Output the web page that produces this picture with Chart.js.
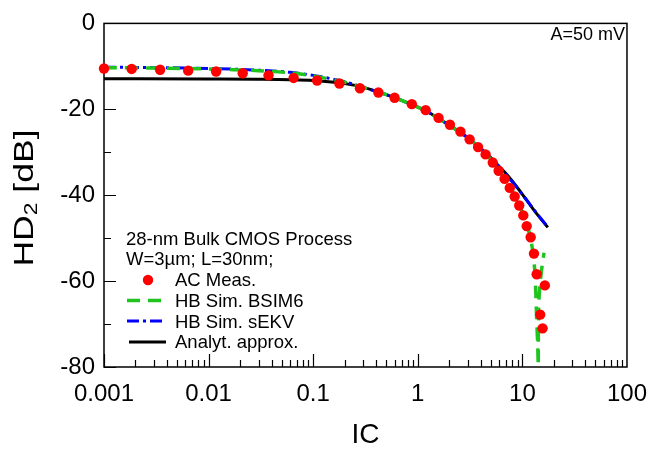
<!DOCTYPE html>
<html>
<head>
<meta charset="utf-8">
<script src="https://cdn.jsdelivr.net/npm/chart.js@4.4.1/dist/chart.umd.min.js"></script>
<style>
  html, body { margin: 0; padding: 0; background: #fff; }
  #wrap { width: 660px; height: 452px; }
</style>
</head>
<body>
<div id="wrap"><canvas id="hdChart" width="660" height="452"></canvas></div>
<script>
// measured points (IC, HD2 in dB)
const acIC = [0.001, 0.00184, 0.00344, 0.00638, 0.0118, 0.0212, 0.0374, 0.065, 0.109, 0.178, 0.28, 0.42, 0.60,
  0.877, 1.19, 1.58, 2.03, 2.56, 3.13, 3.77, 4.45, 5.21, 5.93, 6.76, 7.57, 8.44, 9.33, 10.2, 11.0, 12.0,
  12.9, 13.7, 14.8, 15.6, 16.4];
const acHD2 = [-10.5, -10.6, -10.8, -11.0, -11.2, -11.6, -12.1, -12.7, -13.3, -14.0, -15.1, -16.1, -17.3,
  -18.8, -20.2, -22.0, -23.6, -25.2, -27.0, -28.8, -30.5, -32.4, -34.3, -36.2, -38.3, -40.3, -42.4, -44.7, -47.2, -49.8,
  -53.6, -58.4, -67.8, -71.0, -61.0];

// HB sim with BSIM6 (goes through the notch near IC=14)
const bsimIC = [0.001, 0.003, 0.01, 0.03, 0.06, 0.1, 0.2, 0.3, 0.5, 0.8, 1.2, 2, 3, 4, 5, 6, 7, 8, 9, 10, 11, 12,
  12.96, 13.47, 13.67, 13.97, 14.17, 14.25, 14.2, 14.3, 14.7, 15.24, 16.1];
const bsimHD2 = [-10.3, -10.4, -10.6, -11.0, -11.5, -12.2, -13.7, -14.9, -16.6, -18.5, -20.4, -23.7, -26.6, -29.3, -31.7, -34.2, -36.5, -39.0, -41.4, -44.0, -46.8, -50.0,
  -55.7, -63.3, -68.6, -74.0, -80.0, -92.0, -76.0, -66.0, -61.0, -57.5, -53.4];

// HB sim with sEKV
const ekvIC = [0.001, 0.003, 0.01, 0.03, 0.06, 0.1, 0.2, 0.3, 0.5, 0.8, 1.2, 2, 3, 4, 5, 6, 7, 8, 10, 13, 17.5];
const ekvHD2 = [-10.2, -10.3, -10.5, -10.9, -11.4, -12.1, -13.6, -14.9, -16.6, -18.5, -20.4, -23.7, -26.6, -29.2, -31.4, -33.4, -35.2, -36.9, -39.8, -43.5, -47.4];

// analytical approximation
const analytIC = [0.001, 0.01, 0.03, 0.06, 0.1, 0.2, 0.3, 0.5, 0.8, 1.2, 2, 3, 4, 5, 6, 7, 8, 10, 13, 17.5];
const analytHD2 = [-12.9, -12.95, -13.0, -13.1, -13.3, -14.0, -14.9, -16.6, -18.5, -20.4, -23.7, -26.6, -29.1, -31.3, -33.3, -35.0, -36.7, -39.8, -43.6, -47.5];

const xTickLabels = ["0.001", "0.01", "0.1", "1", "10", "100"];
const seriesNames = ["AC Meas.", "HB Sim. BSIM6", "HB Sim. sEKV", "Analyt. approx."];
const legendTitle = ["28-nm Bulk CMOS Process", "W=3µm; L=30nm;"];
const ampNote = "A=50 mV";

const FONT = "'Liberation Sans', Arial, sans-serif";
const RED = "#ff0000";
const GREEN = "#1fc41f";
const BLUE = "#0000ff";
const BSIM_DASH = [13, 8];
const EKV_DASH = [12, 4, 3, 4];

function toPoints(xs, ys) {
  return xs.map((x, i) => ({ x: x, y: ys[i] }));
}

const decorPlugin = {
  id: "decor",
  beforeDatasetsDraw(chart) {
    const ctx = chart.ctx;
    const a = chart.chartArea;
    const xs = chart.scales.x;
    const ys = chart.scales.y;
    ctx.save();
    ctx.strokeStyle = "#000";
    ctx.lineWidth = 1.5;
    ctx.strokeRect(a.left, a.top, a.right - a.left, a.bottom - a.top);

    ctx.lineWidth = 1.2;
    ctx.beginPath();
    // x ticks, inward
    for (let d = -3; d <= 1; d++) {
      for (let m = 1; m <= 9; m++) {
        const v = m * Math.pow(10, d);
        const px = Math.round(xs.getPixelForValue(v)) + 0.5;
        const len = m === 1 ? 13 : 7;
        ctx.moveTo(px, a.bottom);
        ctx.lineTo(px, a.bottom - len);
      }
    }
    // y ticks, inward
    for (let v = -80; v <= 0; v += 10) {
      const py = Math.round(ys.getPixelForValue(v)) + 0.5;
      const len = v % 20 === 0 ? 12 : 7;
      ctx.moveTo(a.left, py);
      ctx.lineTo(a.left + len, py);
    }
    ctx.stroke();
    ctx.restore();
  },
  afterDraw(chart) {
    const ctx = chart.ctx;
    const a = chart.chartArea;
    ctx.save();
    ctx.fillStyle = "#000";
    ctx.textBaseline = "alphabetic";

    // amplitude note
    ctx.font = "18px " + FONT;
    ctx.textAlign = "right";
    ctx.fillText(ampNote, 625, 40);

    // legend block
    ctx.textAlign = "left";
    ctx.font = "18.5px " + FONT;
    ctx.fillText(legendTitle[0], 126, 245);
    ctx.fillText(legendTitle[1], 126, 265);
    const rows = [286, 307, 328, 348];
    seriesNames.forEach((name, i) => {
      ctx.fillText(name, 175, rows[i]);
    });
    // symbols
    ctx.fillStyle = RED;
    ctx.beginPath();
    ctx.arc(148, 280, 5.2, 0, Math.PI * 2);
    ctx.fill();
    ctx.lineCap = "butt";
    ctx.strokeStyle = GREEN;
    ctx.lineWidth = 3.5;
    ctx.setLineDash(BSIM_DASH);
    ctx.beginPath(); ctx.moveTo(127, 300.5); ctx.lineTo(164, 300.5); ctx.stroke();
    ctx.strokeStyle = BLUE;
    ctx.lineWidth = 3;
    ctx.setLineDash(EKV_DASH);
    ctx.beginPath(); ctx.moveTo(127, 321); ctx.lineTo(165, 321); ctx.stroke();
    ctx.strokeStyle = "#000";
    ctx.setLineDash([]);
    ctx.beginPath(); ctx.moveTo(129, 342); ctx.lineTo(166, 342); ctx.stroke();

    // x axis title
    ctx.fillStyle = "#000";
    ctx.font = "28px " + FONT;
    ctx.textAlign = "center";
    ctx.fillText("IC", (a.left + a.right) / 2, 443);

    // y axis title, HD2 with subscript
    ctx.translate(33, 198);
    ctx.rotate(-Math.PI / 2);
    ctx.scale(1.27, 1);
    ctx.textAlign = "left";
    const big = "28px " + FONT, small = "18px " + FONT;
    ctx.font = big;
    const w1 = ctx.measureText("HD").width;
    const w3 = ctx.measureText(" [dB]").width;
    ctx.font = small;
    const w2 = ctx.measureText("2").width;
    let x0 = -(w1 + w2 + w3) / 2;
    ctx.font = big;
    ctx.fillText("HD", x0, 0);
    ctx.font = small;
    ctx.fillText("2", x0 + w1, 4);
    ctx.font = big;
    ctx.fillText(" [dB]", x0 + w1 + w2, 0);
    ctx.restore();
  }
};

const chart = new Chart(document.getElementById("hdChart").getContext("2d"), {
  type: "line",
  data: {
    datasets: [
      {
        label: seriesNames[0],
        data: toPoints(acIC, acHD2),
        showLine: false,
        pointRadius: 5.2,
        pointBorderWidth: 0,
        pointBackgroundColor: RED,
        pointBorderColor: RED,
        clip: false
      },
      {
        label: seriesNames[1],
        data: toPoints(bsimIC, bsimHD2),
        borderColor: GREEN,
        borderWidth: 3.5,
        borderDash: BSIM_DASH,
        pointRadius: 0,
        tension: 0.2
      },
      {
        label: seriesNames[2],
        data: toPoints(ekvIC, ekvHD2),
        borderColor: BLUE,
        borderWidth: 3,
        borderDash: EKV_DASH,
        pointRadius: 0,
        cubicInterpolationMode: "monotone"
      },
      {
        label: seriesNames[3],
        data: toPoints(analytIC, analytHD2),
        borderColor: "#000",
        borderWidth: 3,
        pointRadius: 0,
        cubicInterpolationMode: "monotone"
      }
    ]
  },
  options: {
    responsive: false,
    animation: false,
    devicePixelRatio: 1,
    layout: { padding: { top: 15, right: 22, left: 0, bottom: 0 } },
    plugins: {
      legend: { display: false },
      tooltip: { enabled: false }
    },
    scales: {
      x: {
        type: "logarithmic",
        min: 0.001,
        max: 100,
        afterBuildTicks: (scale) => {
          scale.ticks = xTickLabels.map(s => ({ value: parseFloat(s) }));
        },
        afterFit: (scale) => { scale.height = 85; },
        grid: { display: false, drawTicks: false, tickLength: 0 },
        border: { display: false },
        ticks: {
          autoSkip: false,
          maxRotation: 0,
          padding: 13,
          color: "#000",
          font: { family: FONT, size: 24 },
          callback: (value) => {
            const i = Math.round(Math.log10(value)) + 3;
            return xTickLabels[i] || "";
          }
        }
      },
      y: {
        min: -80,
        max: 0,
        afterFit: (scale) => { scale.width = 104; },
        grid: { display: false, drawTicks: false, tickLength: 0 },
        border: { display: false },
        ticks: {
          stepSize: 20,
          padding: 9,
          color: "#000",
          font: { family: FONT, size: 24 },
          callback: (value) => String(value)
        }
      }
    }
  },
  plugins: [decorPlugin]
});
</script>
</body>
</html>
